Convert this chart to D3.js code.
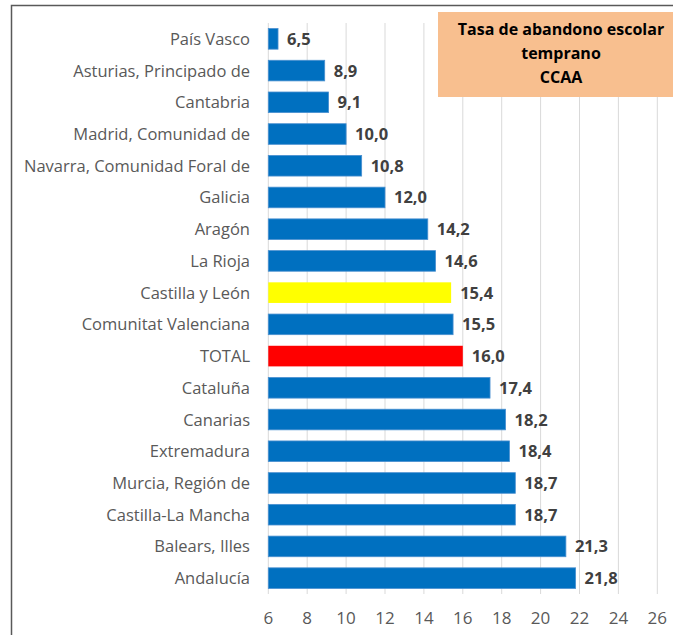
<!DOCTYPE html>
<html>
<head>
<meta charset="utf-8">
<script src="https://cdn.jsdelivr.net/npm/d3@7"></script>
<style>
  body { margin: 0; background: #fff; }
  text { font-family: "Open Sans", "Liberation Sans", sans-serif; }
</style>
</head>
<body>
<div id="chart-ctn"></div>
<script>
// Chart data
const regions = [
    "País Vasco", "Asturias, Principado de", "Cantabria", "Madrid, Comunidad de",
    "Navarra, Comunidad Foral de", "Galicia", "Aragón", "La Rioja", "Castilla y León",
    "Comunitat Valenciana", "TOTAL", "Cataluña", "Canarias", "Extremadura",
    "Murcia, Región de", "Castilla-La Mancha", "Balears, Illes", "Andalucía"
];
const rates = [6.5, 8.9, 9.1, 10.0, 10.8, 12.0, 14.2, 14.6, 15.4, 15.5, 16.0, 17.4, 18.2, 18.4, 18.7, 18.7, 21.3, 21.8];
const xTicks = [6, 8, 10, 12, 14, 16, 18, 20, 22, 24, 26];
const titleLines = ["Tasa de abandono escolar", "temprano", "CCAA"];

let width = 673;
let height = 635;

let svg = d3.select("#chart-ctn")
    .append("svg")
    .attr("width", width)
    .attr("height", height);

// outer frame (only top and left edges visible)
svg.append("path")
    .attr("d", `M11.5,${height} V5.5 H${width}`)
    .attr("fill", "none")
    .attr("stroke", "#595959")
    .attr("stroke-width", 1.5);

let x = d3.scaleLinear().domain([6, 26]).range([268.3, 657.3]);
let y = d3.scaleBand().domain(regions).range([23, 594]).paddingInner(0.35).paddingOuter(0.175);

// gridlines
svg.append("g")
    .selectAll("line")
    .data(xTicks)
    .join("line")
    .attr("x1", (d) => x(d))
    .attr("x2", (d) => x(d))
    .attr("y1", 23)
    .attr("y2", 594)
    .attr("stroke", "#d9d9d9")
    .attr("stroke-width", 1);

// bar colours
function barColor(name) {
    if (name === "TOTAL") return "#ff0000";
    if (name === "Castilla y León") return "#ffff00";
    return "#0070c0";
}

svg.append("g")
    .selectAll("rect")
    .data(regions)
    .join("rect")
    .attr("x", x(6))
    .attr("y", (d) => y(d))
    .attr("width", (d, i) => x(rates[i]) - x(6))
    .attr("height", y.bandwidth())
    .attr("fill", (d) => barColor(d))
    .attr("stroke", (d) => (barColor(d) === "#0070c0" ? "#4a90d0" : "none"))
    .attr("stroke-width", 0.8);

// value labels
svg.append("g")
    .selectAll("text")
    .data(regions)
    .join("text")
    .attr("x", (d, i) => x(rates[i]) + 9)
    .attr("y", (d) => y(d) + y.bandwidth() / 2 + 6)
    .attr("font-size", "16.5px")
    .attr("font-weight", "bold")
    .attr("fill", "#404040")
    .text((d, i) => rates[i].toFixed(1).replace(".", ","));

// category labels
svg.append("g")
    .selectAll("text")
    .data(regions)
    .join("text")
    .attr("x", 250)
    .attr("y", (d) => y(d) + y.bandwidth() / 2 + 6)
    .attr("text-anchor", "end")
    .attr("font-size", "16.5px")
    .attr("fill", "#595959")
    .text((d) => d);

// x tick labels
svg.append("g")
    .selectAll("text")
    .data(xTicks)
    .join("text")
    .attr("x", (d) => x(d))
    .attr("y", 624)
    .attr("text-anchor", "middle")
    .attr("font-size", "17px")
    .attr("fill", "#595959")
    .text((d) => d);

// title box
svg.append("rect")
    .attr("x", 438)
    .attr("y", 12)
    .attr("width", 250)
    .attr("height", 85)
    .attr("fill", "#f8bf8f");

svg.append("g")
    .selectAll("text")
    .data(titleLines)
    .join("text")
    .attr("x", 561)
    .attr("y", (d, i) => 35 + i * 24)
    .attr("text-anchor", "middle")
    .attr("font-size", "16px")
    .attr("font-weight", "bold")
    .attr("fill", "#000")
    .text((d) => d);
</script>
</body>
</html>
